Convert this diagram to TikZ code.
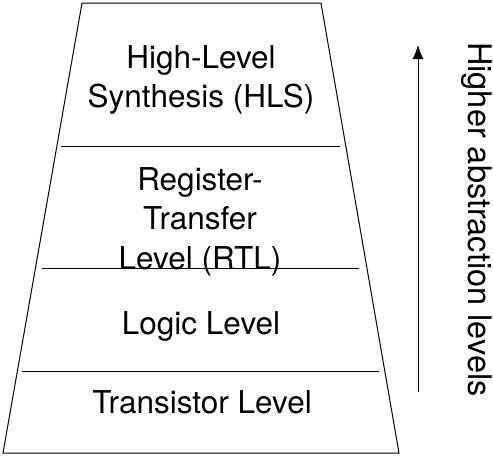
\documentclass[tikz,border=0pt]{standalone}
\usepackage{fontspec}
\setmainfont{TeX Gyre Heros}
\usetikzlibrary{arrows.meta}

\tikzset{
  levelname/.style={font=\fontsize{31.5}{39.5}\selectfont, align=center, inner sep=0pt, anchor=north},
  divider/.style={line width=0.9pt},
}

\begin{document}
\begin{tikzpicture}[x=1pt,y=-1pt]
\useasboundingbox (0,0) rectangle (493,458);
% pyramid outline
\draw [line width=1pt] (82,3) -- (321,3) -- (399,453) -- (3,453) -- cycle;
% level separators
\draw [divider] (61,146) -- (340,146);
\draw [divider] (42,268) -- (359,268);
\draw [divider] (22,371) -- (379,371);
% level names
\node [levelname] (hls)   at (201,45)  {High-Level\\Synthesis (HLS)};
\node [levelname] (rtl)   at (200,167) {Register-\\Transfer\\Level (RTL)};
\node [levelname] (logic) at (201,311) {Logic Level};
\node [levelname] (trans) at (202,390) {Transistor Level};
% abstraction arrow
\coordinate (arrowlow)  at (418,392);
\coordinate (arrowhigh) at (418,45);
\draw [line width=1pt, -{Latex[length=14pt,width=11pt]}] (arrowlow) -- (arrowhigh);
\node [font=\fontsize{32.5}{38}\selectfont, inner sep=0pt, rotate=-90, anchor=base west] (abstr) at (468,42) {Higher abstraction levels};
\end{tikzpicture}
\end{document}
